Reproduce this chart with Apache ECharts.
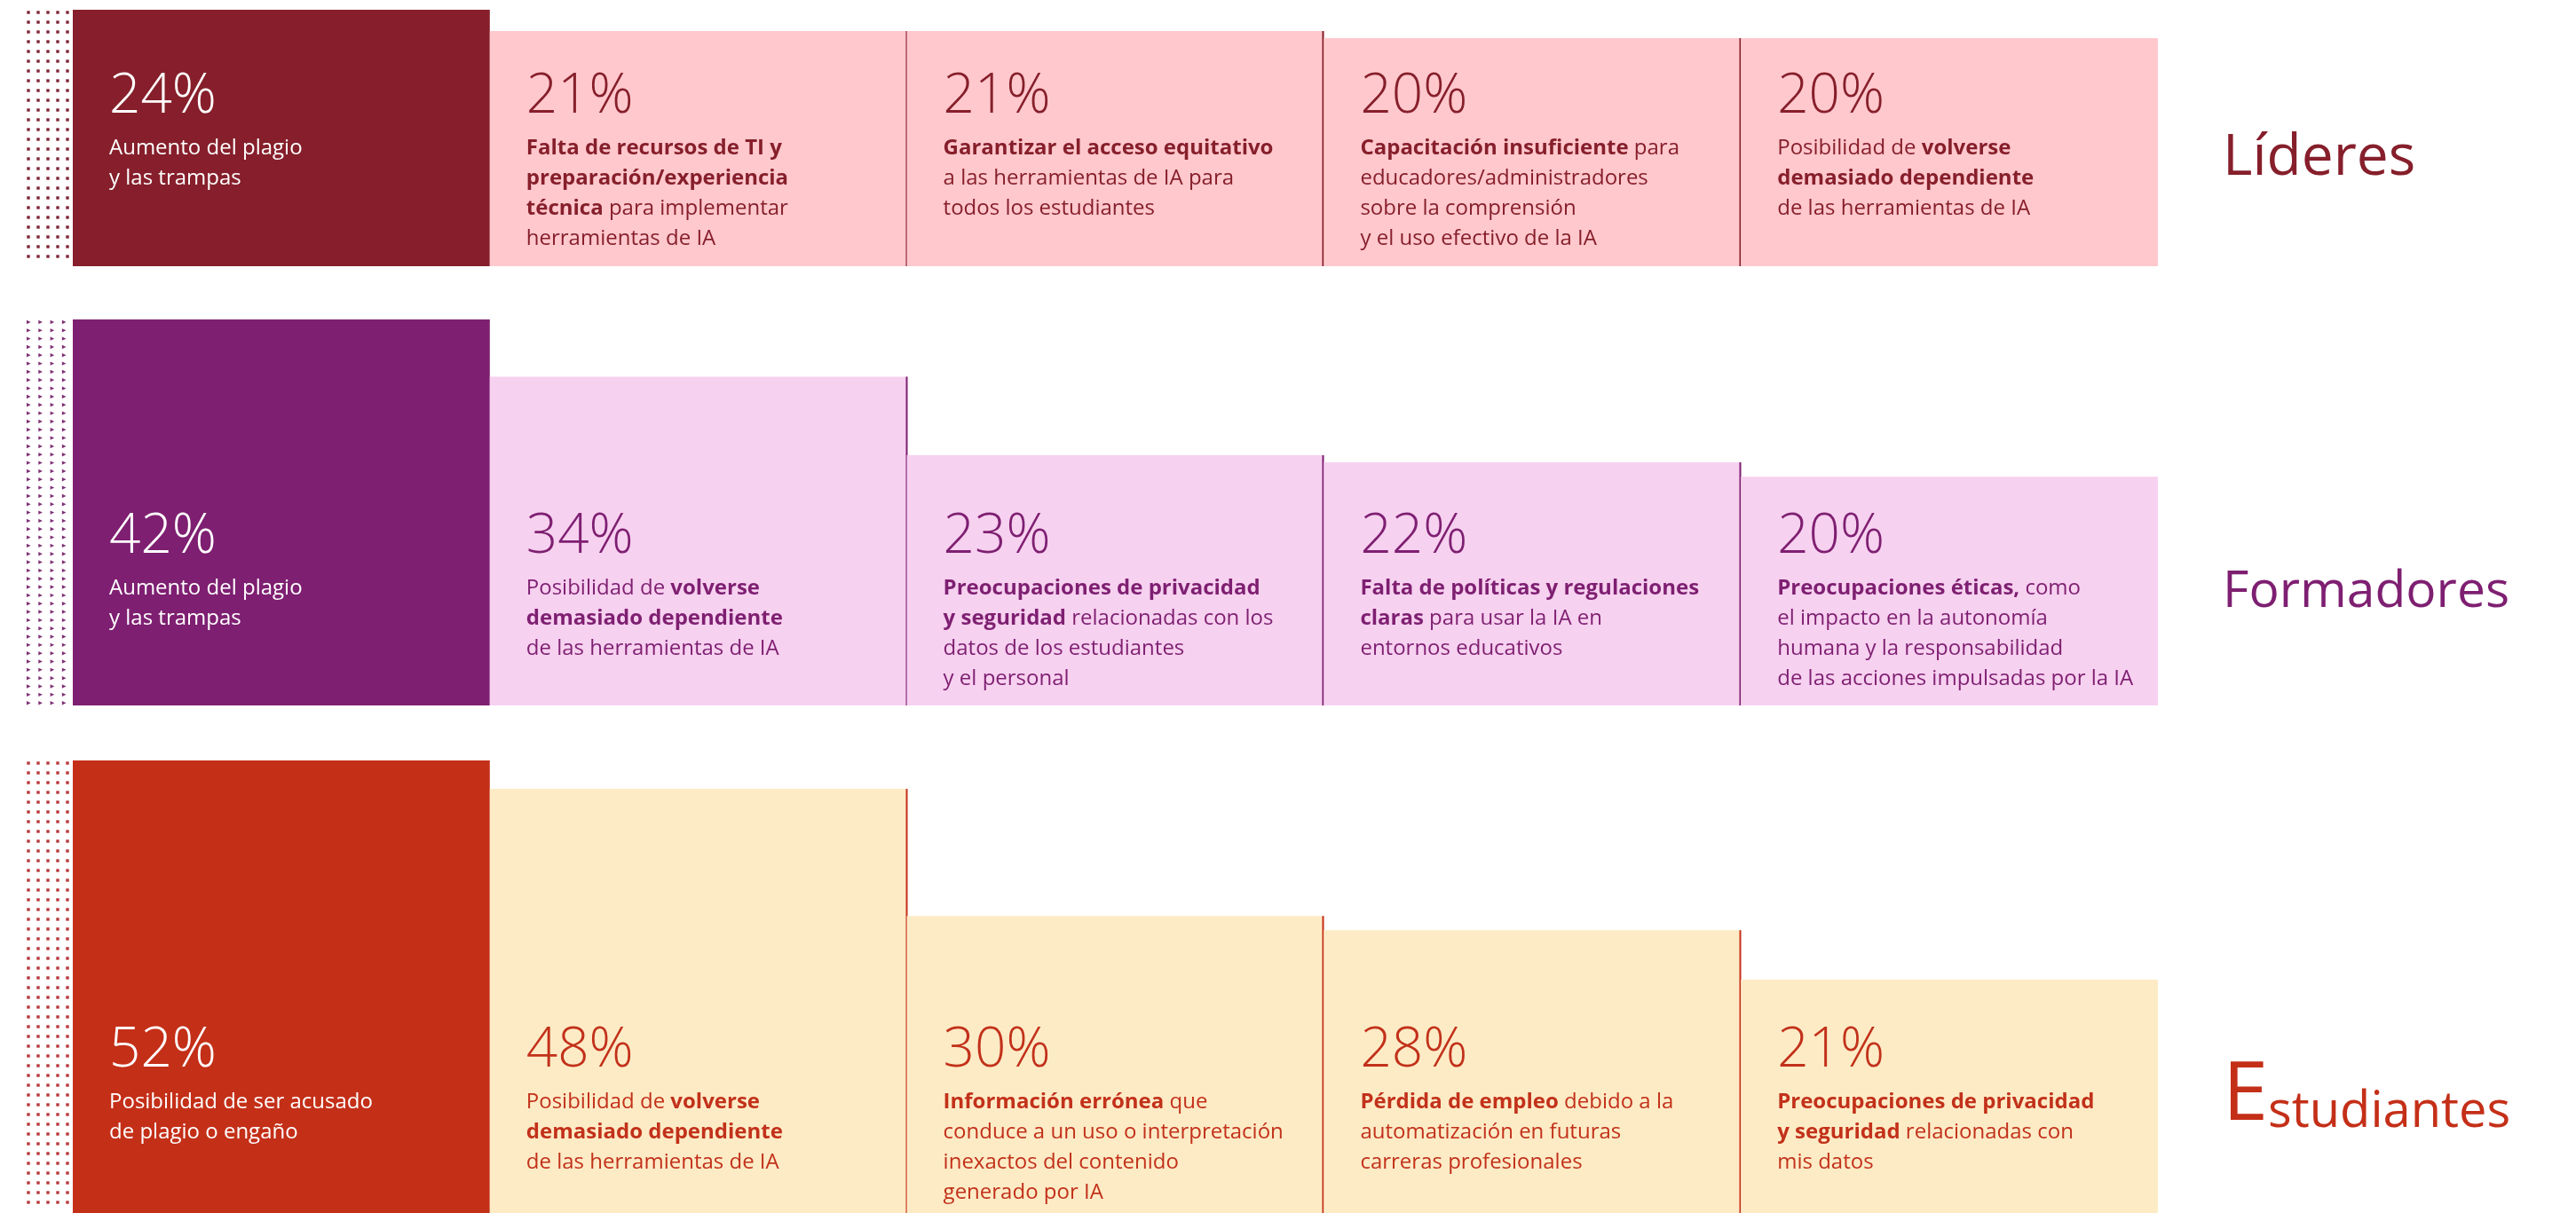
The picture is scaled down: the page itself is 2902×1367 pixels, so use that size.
<!DOCTYPE html>
<html>
<head>
<meta charset="utf-8">
<script src="https://cdn.jsdelivr.net/npm/echarts@6/dist/echarts.min.js"></script>
<style>
  html, body { margin: 0; padding: 0; background: #ffffff; }
  #chart { width: 2902px; height: 1367px; }
</style>
</head>
<body>
<div id="chart"></div>
<script>
// ---------------- DATA ----------------
const groups = ['Líderes', 'Formadores', 'Estudiantes'];
const categories = ['Preocupación 1', 'Preocupación 2', 'Preocupación 3', 'Preocupación 4', 'Preocupación 5'];

const lideresValues = [24, 21, 21, 20, 20];
const formadoresValues = [42, 34, 23, 22, 20];
const estudiantesValues = [52, 48, 30, 28, 21];

// text lines; segments between * are bold
const lideresTexts = [
  ['Aumento del plagio', 'y las trampas'],
  ['*Falta de recursos de TI y*', '*preparación/experiencia*', '*técnica* para implementar', 'herramientas de IA'],
  ['*Garantizar el acceso equitativo*', 'a las herramientas de IA para', 'todos los estudiantes'],
  ['*Capacitación insuficiente* para', 'educadores/administradores', 'sobre la comprensión', 'y el uso efectivo de la IA'],
  ['Posibilidad de *volverse*', '*demasiado dependiente*', 'de las herramientas de IA']
];
const formadoresTexts = [
  ['Aumento del plagio', 'y las trampas'],
  ['Posibilidad de *volverse*', '*demasiado dependiente*', 'de las herramientas de IA'],
  ['*Preocupaciones de privacidad*', '*y seguridad* relacionadas con los', 'datos de los estudiantes', 'y el personal'],
  ['*Falta de políticas y regulaciones*', '*claras* para usar la IA en', 'entornos educativos'],
  ['*Preocupaciones éticas,* como', 'el impacto en la autonomía', 'humana y la responsabilidad', 'de las acciones impulsadas por la IA']
];
const estudiantesTexts = [
  ['Posibilidad de ser acusado', 'de plagio o engaño'],
  ['Posibilidad de *volverse*', '*demasiado dependiente*', 'de las herramientas de IA'],
  ['*Información errónea* que', 'conduce a un uso o interpretación', 'inexactos del contenido', 'generado por IA'],
  ['*Pérdida de empleo* debido a la', 'automatización en futuras', 'carreras profesionales'],
  ['*Preocupaciones de privacidad*', '*y seguridad* relacionadas con', 'mis datos']
];

// ---------------- STYLE / LAYOUT ----------------
const FONT = "'Open Sans', 'Noto Sans', 'DejaVu Sans', sans-serif";
const AXIS_MIN = -12;
const rowValues = [lideresValues, formadoresValues, estudiantesValues];
const rowTexts = [lideresTexts, formadoresTexts, estudiantesTexts];
const rowStyles = [
  { dark: '#861F2B', light: '#FFC8CD', text: '#861F2B', dot: '#7E2536', cols: 5, dx: 11, dy: 11, tri: false, textOffset: 173,
    grid: { left: 82, width: 2349, top: 11, height: 289 }, labelY: 179 },
  { dark: '#7E1F71', light: '#F7D1F0', text: '#7E1F71', dot: '#7E2F74', cols: 4, dx: 13.3, dy: 9.33, tri: true, textOffset: 172,
    grid: { left: 82, width: 2349, top: 360, height: 435 }, labelY: 668 },
  { dark: '#C42F18', light: '#FDEBC6', text: '#C2311A', dot: '#B8383A', cols: 5, dx: 11, dy: 11, tri: false, textOffset: 165,
    grid: { left: 82, width: 2349, top: 857, height: 515 }, labelY: 1236 }
];

function toRich(lines) {
  return lines.map(function (line) {
    const parts = line.split('*');
    let s = '';
    parts.forEach(function (p, k) {
      if (!p) return;
      s += '{' + (k % 2 === 1 ? 'b' : 'r') + '|' + p + '}';
    });
    return s;
  }).join('\n');
}

function makeRender(r) {
  const st = rowStyles[r];
  return function (params, api) {
    const i = api.value(0);
    const v = api.value(1);
    const topPt = api.coord([i, v]);
    const botPt = api.coord([i, AXIS_MIN]);
    const w = api.size([1, 0])[0];
    const x0 = topPt[0] - w / 2;
    const x1 = topPt[0] + w / 2;
    const children = [];
    children.push({
      type: 'rect',
      shape: { x: x0, y: topPt[1], width: w, height: botPt[1] - topPt[1] },
      style: { fill: i === 0 ? st.dark : st.light }
    });
    if (i >= 1 && i <= 3) {
      children.push({
        type: 'line',
        shape: { x1: Math.round(x1) - 0.5, y1: topPt[1], x2: Math.round(x1) - 0.5, y2: botPt[1] },
        style: { stroke: st.dark, lineWidth: 2 }
      });
    }
    const fg = i === 0 ? '#ffffff' : st.text;
    const base = botPt[1] - st.textOffset;
    children.push({
      type: 'text',
      style: {
        x: x0 + 41, y: base - 18, text: v + '%',
        font: '300 62px ' + FONT, fill: fg, verticalAlign: 'middle', align: 'left'
      }
    });
    children.push({
      type: 'text',
      style: {
        x: x0 + 41, y: base + 23,
        text: toRich(rowTexts[r][params.dataIndex]),
        fill: fg, verticalAlign: 'top', align: 'left', lineHeight: 34,
        font: '400 24px ' + FONT,
        rich: {
          b: { fontFamily: FONT, fontSize: 24, fontWeight: 'bold', fill: fg, lineHeight: 34 },
          r: { fontFamily: FONT, fontSize: 24, fontWeight: 'normal', fill: fg, lineHeight: 34 }
        }
      }
    });
    if (i === 0) {
      // dotted decoration left of the leading bar
      for (let y = topPt[1] + 3; y < botPt[1] - 1; y += st.dy) {
        for (let c = 0; c < st.cols; c++) {
          const cx = x0 - 50 + c * st.dx;
          if (st.tri) {
            children.push({ type: 'polygon', shape: { points: [[cx - 2, y - 2.2], [cx - 2, y + 2.2], [cx + 2.6, y]] }, style: { fill: st.dot } });
          } else {
            children.push({ type: 'rect', shape: { x: cx - 1.7, y: y - 1.7, width: 3.4, height: 3.4 }, style: { fill: st.dot } });
          }
        }
      }
    }
    return { type: 'group', children: children };
  };
}

const chart = echarts.init(document.getElementById('chart'), null, { renderer: 'canvas' });
const option = {
  animation: false,
  backgroundColor: '#ffffff',
  grid: rowStyles.map(function (s) { return Object.assign({ containLabel: false }, s.grid); }),
  xAxis: rowStyles.map(function (s, r) {
    return { type: 'category', gridIndex: r, data: categories, show: false, boundaryGap: true };
  }),
  yAxis: rowStyles.map(function (s, r) {
    return { type: 'value', gridIndex: r, min: AXIS_MIN, max: 'dataMax', show: false, splitLine: { show: false } };
  }),
  series: rowValues.map(function (vals, r) {
    return {
      type: 'custom', name: groups[r], xAxisIndex: r, yAxisIndex: r, clip: false,
      renderItem: makeRender(r),
      encode: { x: 0, y: 1 },
      data: vals.map(function (v, k) { return [k, v]; })
    };
  }),
  graphic: [
    { type: 'text', x: 2504, y: rowStyles[0].labelY, style: { text: groups[0], font: '400 64px ' + FONT, fill: rowStyles[0].dark, verticalAlign: 'middle' } },
    { type: 'text', x: 2504, y: rowStyles[1].labelY, style: { text: groups[1], font: '400 57px ' + FONT, fill: rowStyles[1].dark, verticalAlign: 'middle' } },
    { type: 'text', x: 2504, y: rowStyles[2].labelY, style: {
        text: '{e|' + groups[2].charAt(0) + '}{s|' + groups[2].slice(1) + '}',
        verticalAlign: 'middle', fill: rowStyles[2].dark,
        rich: {
          e: { fontFamily: FONT, fontSize: 92, fill: rowStyles[2].dark, verticalAlign: 'bottom' },
          s: { fontFamily: FONT, fontSize: 56, fill: rowStyles[2].dark, verticalAlign: 'bottom', padding: [0, 0, 0, 0] }
        }
      } }
  ]
};
chart.setOption(option);
</script>
</body>
</html>
